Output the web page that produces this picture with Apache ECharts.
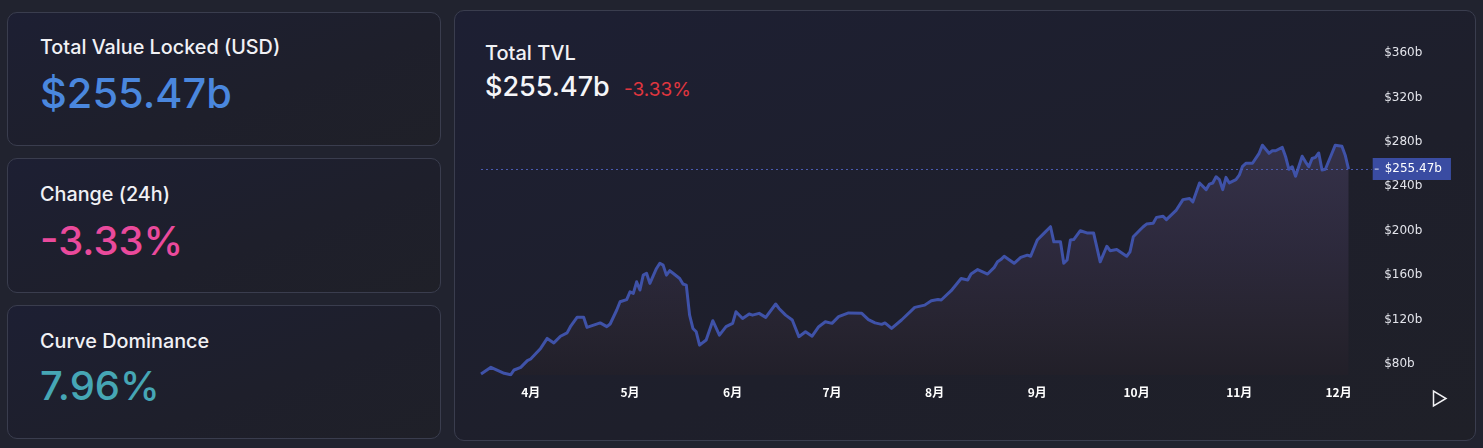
<!DOCTYPE html>
<html>
<head>
<meta charset="utf-8">
<script src="https://cdn.jsdelivr.net/npm/echarts@6/dist/echarts.min.js"></script>
<style>
  html, body { margin: 0; padding: 0; width: 1483px; height: 448px; overflow: hidden; background: #21232f; font-family: Inter, "Noto Sans", sans-serif; }
  .card { position: absolute; box-sizing: border-box; border: 1px solid #3a3d4e; border-radius: 10px; background: linear-gradient(160deg, #1d1f33 0%, #1e1f2b 60%, #1f2028 100%); }
  .t { position: absolute; white-space: nowrap; line-height: 1; }
  .lbl { font-size: 19.8px; font-weight: 500; color: #f1f1f5; }
  .big { font-size: 41.5px; font-weight: 500; }
  #chart { position: absolute; left: 0; top: 0; width: 1483px; height: 448px; }
</style>
</head>
<body>
<div class="card" style="left:7px;top:12px;width:434px;height:134px;"></div>
<div class="card" style="left:7px;top:158px;width:434px;height:135px;"></div>
<div class="card" style="left:7px;top:305px;width:434px;height:134px;"></div>
<div class="card" style="left:454px;top:10px;width:1022px;height:431px;"></div>

<div class="t lbl" style="left:40px;top:37.5px;">Total Value Locked (USD)</div>
<div class="t big" style="left:40px;top:73px;color:#4a87de;">$255.47b</div>
<div class="t lbl" style="left:40px;top:184.5px;">Change (24h)</div>
<div class="t big" style="left:40px;top:221px;color:#ea4a9c;font-size:40px;">-3.33%</div>
<div class="t lbl" style="left:40px;top:331.5px;">Curve Dominance</div>
<div class="t big" style="left:40px;top:366px;color:#46a6b5;font-size:40px;">7.96%</div>

<div class="t" style="left:485px;top:43px;font-size:20px;font-weight:500;color:#f1f1f5;">Total TVL</div>
<div class="t" style="left:485px;top:73px;font-size:27px;font-weight:500;color:#f5f5f8;">$255.47b</div>
<div class="t" style="left:624px;top:80px;font-size:19px;font-weight:400;color:#e0363f;">-3.33%</div>

<div id="chart"></div>
<script>
// ---- data (2021, values in billions USD) ----
const dates = [
  '2021-03-17','2021-03-20','2021-03-24','2021-03-26','2021-03-27','2021-03-29','2021-03-31',
  '2021-04-01','2021-04-04','2021-04-06','2021-04-08','2021-04-10','2021-04-12','2021-04-13','2021-04-15','2021-04-17','2021-04-18','2021-04-20','2021-04-22','2021-04-24','2021-04-25','2021-04-27','2021-04-28','2021-04-30',
  '2021-05-01','2021-05-02','2021-05-03','2021-05-04','2021-05-05','2021-05-06','2021-05-07','2021-05-09','2021-05-10','2021-05-11','2021-05-12','2021-05-13','2021-05-14','2021-05-16','2021-05-17','2021-05-18','2021-05-19','2021-05-20','2021-05-21','2021-05-22','2021-05-24','2021-05-26','2021-05-28','2021-05-30',
  '2021-06-01','2021-06-02','2021-06-04','2021-06-06','2021-06-07','2021-06-09','2021-06-11','2021-06-14','2021-06-15','2021-06-17','2021-06-19','2021-06-21','2021-06-23','2021-06-25','2021-06-27','2021-06-29',
  '2021-07-01','2021-07-03','2021-07-06','2021-07-10','2021-07-12','2021-07-14','2021-07-16','2021-07-17','2021-07-19','2021-07-22','2021-07-26','2021-07-29','2021-07-31',
  '2021-08-02','2021-08-03','2021-08-06','2021-08-09','2021-08-11','2021-08-12','2021-08-14','2021-08-17','2021-08-19','2021-08-20','2021-08-21','2021-08-22','2021-08-25','2021-08-27','2021-08-29','2021-08-30',
  '2021-09-01','2021-09-03','2021-09-05','2021-09-06','2021-09-08','2021-09-09','2021-09-10','2021-09-11','2021-09-12','2021-09-14','2021-09-16','2021-09-18','2021-09-20','2021-09-22','2021-09-23','2021-09-25','2021-09-26','2021-09-28','2021-09-29','2021-09-30',
  '2021-10-02','2021-10-03','2021-10-04','2021-10-06','2021-10-07','2021-10-09','2021-10-10','2021-10-13','2021-10-15','2021-10-17','2021-10-18','2021-10-20','2021-10-22','2021-10-23','2021-10-24','2021-10-25','2021-10-26','2021-10-27','2021-10-28','2021-10-29','2021-10-31',
  '2021-11-01','2021-11-02','2021-11-03','2021-11-05','2021-11-07','2021-11-08','2021-11-10','2021-11-11','2021-11-12','2021-11-14','2021-11-15','2021-11-16','2021-11-17','2021-11-18','2021-11-20','2021-11-21','2021-11-22','2021-11-23','2021-11-24','2021-11-25','2021-11-26','2021-11-27','2021-11-29','2021-11-30',
  '2021-12-02','2021-12-03','2021-12-04'
];
const tvl = [
  71,77,71.6,70.4,74.6,77,83,
  84.5,94,103,99,105,108,113.6,122,122,113,115,117,113.6,116,128.6,136,138,
  145,143.6,154,146.6,160,161.7,152.6,166,170.7,169,160,164,161.7,157,152,151,124,112,109,97,101.6,119,106,113.6,
  116.6,127,121,125,124,125.6,122,134,130,124,119.6,104.6,109,105,113.6,118,
  116.6,122.6,126,125.6,120,117,115.7,117,112,119.6,131,133,137,
  138,137.6,146,157,155.6,161,165,161,167,172,174,177,170.7,176,178,177,
  191.6,197.6,203.6,190,190,170.7,173.6,191.6,192,200,198,198,172,186,182,183,181,177,181,194.6,
  200.6,203.6,206,206.7,212,213,210,218.6,228,229,226,243,237,242,243,248.6,246,237,248,243,246,
  250,258,260.7,260.7,269.7,277,269.7,272,272,275,266.6,255.3,257.6,249,267,262,257.6,265,266,270,254.7,255.3,269.7,277,
  276,268,255.47
];
const currentValue = 255.47;
const yTickValues = [80, 120, 160, 200, 240, 280, 320, 360];
const xTickDates = ['2021-04-01','2021-05-01','2021-06-01','2021-07-01','2021-08-01','2021-09-01','2021-10-01','2021-11-01','2021-12-01'];
const xStart = '2021-03-17';
const xEnd = '2021-12-11';

function parseD(s) { const p = s.split('-').map(Number); return Date.UTC(p[0], p[1] - 1, p[2]); }
const seriesData = dates.map((d, i) => [parseD(d), tvl[i]]);
const xTicks = xTickDates.map(parseD);

const chart = echarts.init(document.getElementById('chart'), null, { renderer: 'canvas' });
chart.setOption({
  backgroundColor: 'transparent',
  animation: false,
  grid: { left: 481, right: 111.3, top: 41.9, bottom: 72.9, containLabel: false },
  xAxis: {
    type: 'value',
    min: parseD(xStart),
    max: parseD(xEnd),
    axisLine: { show: false },
    axisTick: { show: false },
    splitLine: { show: false },
    axisLabel: {
      customValues: xTicks,
      margin: 11,
      color: '#ffffff',
      fontSize: 12,
      fontWeight: 'bold',
      fontFamily: '"Noto Sans CJK SC", "Noto Sans", sans-serif',
      formatter: function (v) { return (new Date(v).getUTCMonth() + 1) + '月'; }
    }
  },
  yAxis: {
    type: 'value',
    position: 'right',
    min: 70,
    max: 370,
    axisLine: { show: false },
    axisTick: { show: false },
    splitLine: { show: false },
    axisLabel: {
      customValues: yTickValues,
      margin: 12.5,
      color: '#e2e3ea',
      fontSize: 12,
      fontFamily: '"DejaVu Sans", sans-serif',
      formatter: function (v) { return '$' + v + 'b'; }
    }
  },
  series: [{
    type: 'line',
    data: seriesData,
    showSymbol: false,
    symbol: 'none',
    lineStyle: { color: '#3f52a8', width: 3, join: 'round' },
    areaStyle: {
      color: new echarts.graphic.LinearGradient(0, 145, 0, 376, [
        { offset: 0, color: '#3f3a56' },
        { offset: 0.45, color: '#332e44' },
        { offset: 0.8, color: '#2a2632' },
        { offset: 1, color: '#232029' }
      ], true)
    },
    markLine: {
      silent: true,
      symbol: 'none',
      lineStyle: { color: '#4a5bb0', type: [2, 3], width: 1 },
      label: {
        position: 'end',
        distance: 1,
        formatter: '{tk|}{v|$255.47b}',
        backgroundColor: '#3a4ca2',
        padding: [3, 9, 3, 2],
        rich: {
          tk: { width: 4, height: 1, backgroundColor: '#d8dcf0', padding: 0 },
          v: { color: '#ffffff', fontSize: 12, fontFamily: '"DejaVu Sans", sans-serif', padding: [0, 0, 0, 6], lineHeight: 16 }
        }
      },
      data: [{ yAxis: currentValue }]
    }
  }],
  graphic: [{
    type: 'polygon',
    shape: { points: [[1433.5, 391], [1433.5, 406], [1446, 398.5]] },
    style: { fill: 'none', stroke: '#f2f2f5', lineWidth: 1.5 }
  }]
});
</script>
</body>
</html>
